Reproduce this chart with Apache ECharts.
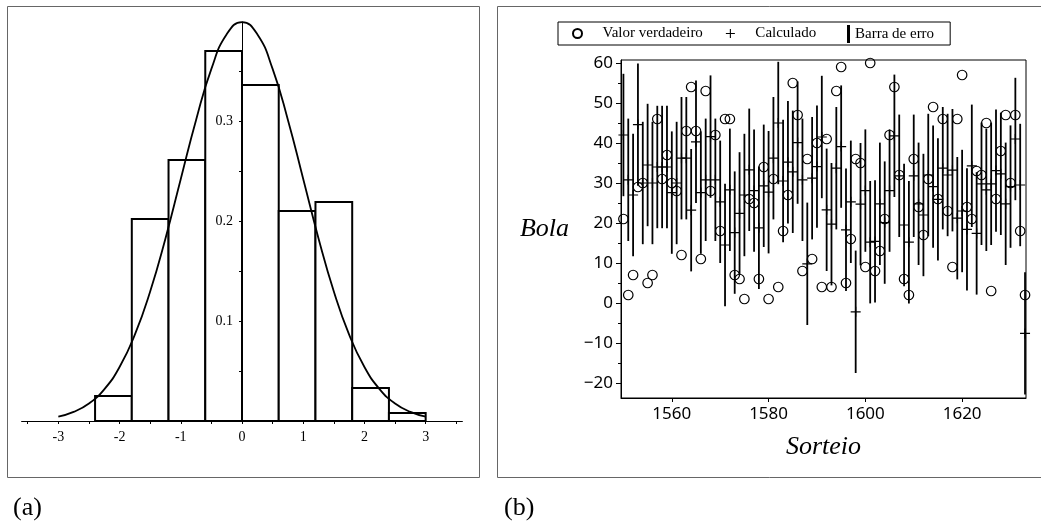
<!DOCTYPE html>
<html><head><meta charset="utf-8">
<script src="https://cdn.jsdelivr.net/npm/echarts@6/dist/echarts.min.js"></script>
<style>html,body{margin:0;padding:0;background:#fff}#c{width:1041px;height:523px}</style>
</head><body><div id="c"></div>
<script>
// ---------- Panel (a): histogram + normal curve ----------
const binEdges = [-2.4, -1.8, -1.2, -0.6, 0, 0.6, 1.2, 1.8, 2.4, 3.0];
const binHeights = [0.025, 0.202, 0.261, 0.370, 0.336, 0.210, 0.219, 0.033, 0.008];
const curveX = [-3, -2.75, -2.5, -2.25, -2, -1.75, -1.5, -1.25, -1, -0.75, -0.5, -0.25, 0,
                0.25, 0.5, 0.75, 1, 1.25, 1.5, 1.75, 2, 2.25, 2.5, 2.75, 3];
const curveY = [0.0044, 0.0091, 0.0175, 0.0317, 0.0540, 0.0863, 0.1295, 0.1826, 0.2420, 0.3011, 0.3521, 0.3867, 0.3989,
                0.3867, 0.3521, 0.3011, 0.2420, 0.1826, 0.1295, 0.0863, 0.0540, 0.0317, 0.0175, 0.0091, 0.0044];
const xTicksA = [-3.5, -3, -2.5, -2, -1.5, -1, -0.5, 0, 0.5, 1, 1.5, 2, 2.5, 3, 3.5];
const xLabelsA = [-3, -2, -1, 0, 1, 2, 3];
const yTicksA = [0.05, 0.1, 0.15, 0.2, 0.25, 0.3, 0.35];
const yLabelsA = [0.1, 0.2, 0.3];

// ---------- Panel (b): draws ----------
const sorteio = [1550,1551,1552,1553,1554,1555,1556,1557,1558,1559,1560,1561,1562,1563,1564,1565,1566,1567,1568,1569,
                 1570,1571,1572,1573,1574,1575,1576,1577,1578,1579,1580,1581,1582,1583,1584,1585,1586,1587,1588,1589,
                 1590,1591,1592,1593,1594,1595,1596,1597,1598,1599,1600,1601,1602,1603,1604,1605,1606,1607,1608,1609,
                 1610,1611,1612,1613,1614,1615,1616,1617,1618,1619,1620,1621,1622,1623,1624,1625,1626,1627,1628,1629,
                 1630,1631,1632,1633];
const valorVerdadeiro = [21,2,7,29,30,5,7,46,31,37,30,28,12,43,54,43,11,53,28,42,
                         18,46,46,7,6,1,26,25,6,34,1,31,4,18,27,55,47,8,36,11,
                         40,4,41,4,53,59,5,16,36,35,9,60,8,13,21,42,54,32,6,2,
                         36,24,17,31,49,26,46,23,9,46,57,24,21,33,32,45,3,26,38,47,
                         30,47,18,2];
const calculado = [42.0,30.8,27.0,44.6,30.0,34.5,30.0,34.0,34.0,34.0,27.6,30.0,36.2,36.2,23.2,40.3,27.6,30.8,41.6,30.8,
                   25.3,14.5,28.3,17.6,22.4,27.0,33.3,28.1,18.8,29.3,27.7,36.2,45.0,30.5,35.2,32.8,40.1,30.8,9.8,31.2,
                   34.1,41.5,23.3,19.7,33.7,39.1,18.3,25.3,-2.2,24.7,28.1,15.2,15.4,24.8,20.1,28.1,41.8,31.8,19.5,15.2,
                   31.8,24.8,22.0,32.0,29.1,25.9,33.7,32.0,33.2,21.2,23.0,18.4,34.3,17.4,29.8,28.3,29.8,33.1,32.3,24.8,
                   29.1,41.0,29.5,-7.6];
const erroMeiaLargura = 15.3;
const xLabelsB = [1560, 1580, 1600, 1620];
const yLabelsB = [-20, -10, 0, 10, 20, 30, 40, 50, 60];
const yMinorTicksB = [-15, -5, 5, 15, 25, 35, 45, 55];

// ---------- build ----------
const histData = binHeights.map((h, i) => [binEdges[i], binEdges[i + 1], h]);
const curveData = curveX.map((x, i) => [x, curveY[i]]);
const trueData = sorteio.map((d, i) => [d, valorVerdadeiro[i]]);
const calcData = sorteio.map((d, i) => [d, calculado[i]]);
const errData = sorteio.map((d, i) => [d, calculado[i] - erroMeiaLargura, calculado[i] + erroMeiaLargura]);

const serif = 'Liberation Serif';
const sans = 'Noto Sans';
const minus = v => String(v).replace('-', '\u2212');

const chart = echarts.init(document.getElementById('c'), null, {renderer: 'canvas'});
chart.setOption({
  animation: false,
  backgroundColor: '#fff',
  title: [
    {text: '(a)', left: 8, top: 490, textStyle: {fontFamily: serif, fontSize: 26, fontWeight: 'normal', color: '#000'}},
    {text: '(b)', left: 499, top: 490, textStyle: {fontFamily: serif, fontSize: 26, fontWeight: 'normal', color: '#000'}}
  ],
  graphic: [
    {type: 'rect', shape: {x: 7.5, y: 6.5, width: 472, height: 471}, style: {fill: 'none', stroke: '#666', lineWidth: 1}, silent: true},
    {type: 'rect', shape: {x: 497.5, y: 6.5, width: 560, height: 471}, style: {fill: 'none', stroke: '#666', lineWidth: 1}, silent: true}
  ],
  legend: [
    {
      left: 558, top: 22, orient: 'horizontal', selectedMode: false,
      data: [{name: 'Valor verdadeiro'}, {name: 'Calculado'}],
      itemWidth: 40, itemHeight: 9, itemGap: 23,
      padding: [4, 134, 4, 14],
      borderColor: '#000', borderWidth: 1, borderRadius: 0,
      textStyle: {fontFamily: serif, fontSize: 15, color: '#000'}
    },
    {
      left: 847, top: 25, orient: 'horizontal', selectedMode: false,
      data: [{name: 'Barra de erro', icon: 'path://M0,0h3v18h-3z'}],
      itemWidth: 3, itemHeight: 18, padding: 0,
      textStyle: {fontFamily: serif, fontSize: 15, color: '#000'}
    }
  ],
  grid: [
    {left: 21.6, right: 1041 - 462.4, top: 22, bottom: 523 - 421, show: false},
    {left: 621, right: 15, top: 60, bottom: 125, show: true, borderColor: '#000', borderWidth: 1, backgroundColor: 'transparent'}
  ],
  xAxis: [
    {
      gridIndex: 0, type: 'value', min: -3.6, max: 3.6, z: 10,
      axisLine: {show: true, lineStyle: {color: '#000', width: 1}},
      axisTick: {show: true, customValues: xTicksA, length: 3, lineStyle: {color: '#000'}},
      axisLabel: {customValues: xLabelsA, fontFamily: serif, fontSize: 14, color: '#000', margin: 9},
      splitLine: {show: false}
    },
    {
      gridIndex: 1, type: 'value', min: 1549.5, max: 1633.2,
      name: 'Sorteio', nameLocation: 'middle', nameGap: 36,
      nameTextStyle: {fontFamily: serif, fontStyle: 'italic', fontSize: 26, color: '#000'},
      axisLine: {show: true, onZero: false, lineStyle: {color: '#000', width: 1}},
      axisTick: {show: true, customValues: xLabelsB, length: 4, lineStyle: {color: '#000'}},
      axisLabel: {customValues: xLabelsB, formatter: v => String(v), fontFamily: sans, fontSize: 17, color: '#000', margin: 8},
      splitLine: {show: false}
    }
  ],
  yAxis: [
    {
      gridIndex: 0, type: 'value', min: 0, max: 0.399, z: 10,
      axisLine: {show: true, onZero: true, lineStyle: {color: '#000', width: 1}},
      axisTick: {show: true, customValues: yTicksA, length: 3, lineStyle: {color: '#000'}},
      axisLabel: {customValues: yLabelsA, formatter: v => v.toFixed(1), fontFamily: serif, fontSize: 14, color: '#000', margin: -211.4},
      splitLine: {show: false}
    },
    {
      gridIndex: 1, type: 'value', min: -23.75, max: 60.75,
      name: 'Bola', nameLocation: 'middle', nameGap: 52, nameRotate: 0,
      nameTextStyle: {fontFamily: serif, fontStyle: 'italic', fontSize: 26, color: '#000', align: 'right', verticalAlign: 'middle'},
      axisLine: {show: true, onZero: false, lineStyle: {color: '#000', width: 1}},
      axisTick: {show: true, customValues: yLabelsB, length: 5, lineStyle: {color: '#000'}},
      axisLabel: {customValues: yLabelsB, formatter: minus, fontFamily: sans, fontSize: 17, color: '#000', margin: 8},
      splitLine: {show: false}
    },
    {
      gridIndex: 1, type: 'value', min: -23.75, max: 60.75, position: 'left',
      axisLine: {show: false, onZero: false},
      axisTick: {show: true, customValues: yMinorTicksB, length: 3, lineStyle: {color: '#000'}},
      axisLabel: {show: false},
      splitLine: {show: false}
    }
  ],
  series: [
    {
      name: 'Histograma', type: 'custom', xAxisIndex: 0, yAxisIndex: 0, z: 2,
      data: histData, encode: {x: [0, 1], y: 2},
      renderItem: (params, api) => {
        const a = api.coord([api.value(0), api.value(2)]);
        const b = api.coord([api.value(1), 0]);
        return {type: 'rect', shape: {x: a[0], y: a[1], width: b[0] - a[0], height: b[1] - a[1]},
                style: {fill: '#fff', stroke: '#000', lineWidth: 2}};
      }
    },
    {
      name: 'Normal', type: 'line', xAxisIndex: 0, yAxisIndex: 0, z: 3,
      data: curveData, smooth: true, symbol: 'none',
      lineStyle: {color: '#000', width: 1.8}
    },
    {
      name: 'Barra de erro', type: 'custom', xAxisIndex: 1, yAxisIndex: 1, z: 2,
      data: errData, encode: {x: 0, y: [1, 2]},
      itemStyle: {color: '#000'},
      renderItem: (params, api) => {
        const a = api.coord([api.value(0), api.value(1)]);
        const b = api.coord([api.value(0), api.value(2)]);
        return {type: 'line', shape: {x1: a[0], y1: a[1], x2: b[0], y2: b[1]},
                style: {stroke: '#000', lineWidth: 1.8}};
      }
    },
    {
      name: 'Calculado', type: 'scatter', xAxisIndex: 1, yAxisIndex: 1, z: 3,
      data: calcData, symbol: 'path://M0,4.4h10v1.2h-10zM4.4,0h1.2v10h-1.2z', symbolSize: 10,
      itemStyle: {color: '#000', opacity: 1}
    },
    {
      name: 'Valor verdadeiro', type: 'scatter', xAxisIndex: 1, yAxisIndex: 1, z: 4,
      data: trueData, symbol: 'circle', symbolSize: 9.5,
      itemStyle: {color: 'rgba(0,0,0,0)', borderColor: '#000', borderWidth: 1.2, opacity: 1}
    }
  ]
});
</script></body></html>
